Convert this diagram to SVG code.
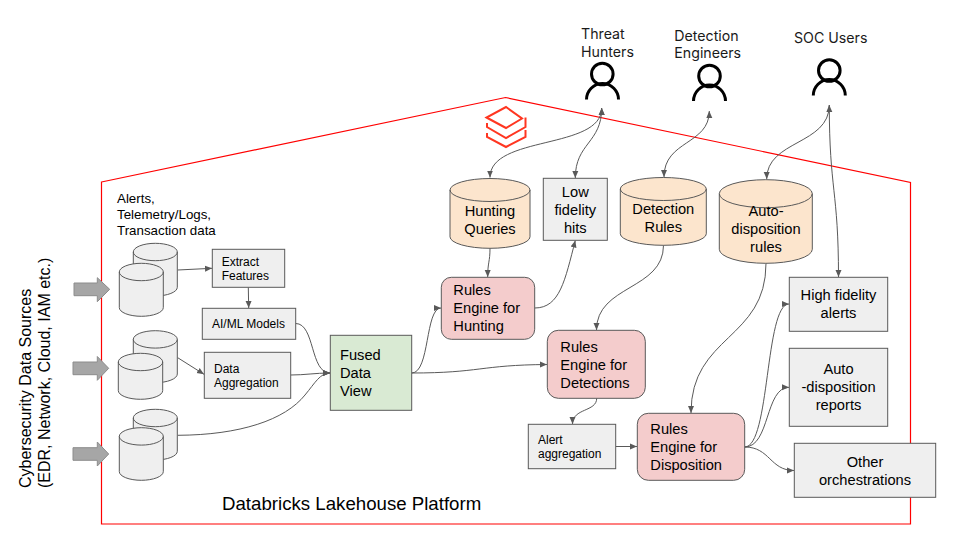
<svg xmlns="http://www.w3.org/2000/svg" width="960" height="540" viewBox="0 0 960 540">
<style>
text{font-family:"Liberation Sans",Arial,sans-serif;font-size:14.67px;fill:#000}
.s{font-size:12px}
.m{font-size:13.33px}
.u{font-family:Inter,"Open Sans",sans-serif;font-size:14.2px;fill:#1a1a1a}
.c{text-anchor:middle}
.n{stroke:#595959;stroke-width:1}
.g{fill:#efefef}.p{fill:#f4cccc}.o{fill:#fce5cd}.e{fill:#d9ead3}
.cap{fill:none;stroke:#595959;stroke-width:1}
.a{fill:#a6a6a6;stroke:#8c8c8c;stroke-width:1}
.l{fill:none;stroke:#595959;stroke-width:1;marker-end:url(#h)}
.b{marker-start:url(#hs)}
.usr{fill:none;stroke:#000;stroke-width:3}
.lg{fill:none;stroke:#ff3621;stroke-width:2}
</style>
<defs>
<marker id="h" markerUnits="userSpaceOnUse" viewBox="0 0 8 8" refX="7" refY="4" markerWidth="8" markerHeight="8" orient="auto"><path d="M0,1 L7,4 L0,7z" fill="#595959"/></marker>
<marker id="hs" markerUnits="userSpaceOnUse" viewBox="0 0 8 8" refX="1" refY="4" markerWidth="8" markerHeight="8" orient="auto"><path d="M8,1 L1,4 L8,7z" fill="#595959"/></marker>
</defs>
<path id="lakehouse" d="M101.5,182 L505.5,97.5 L910.5,182.5 V524 H101.5Z" fill="none" stroke="#f00" stroke-width="1.2"/>
<g id="logo" class="lg"><path d="M486.500,117.500 L506,128 L522,118.500 L506,107 Z"/><path d="M487,123 V127 L506,138 L525.500,127 V117.500"/><path d="M487,133 V137 L506,147 L525.500,137 V130"/></g>
<g id="source-label" transform="translate(31,488) rotate(-90)"><text style="font-size:16px">Cybersecurity Data Sources</text><text y="19" style="font-size:16px">(EDR, Network, Cloud, IAM etc.)</text></g>
<text id="platform-label" x="222" y="509.500" style="font-size:18.67px">Databricks Lakehouse Platform</text>
<text id="data-label" class="m"><tspan x="117" y="203">Alerts,</tspan><tspan x="117" y="219">Telemetry/Logs,</tspan><tspan x="117" y="235">Transaction data</tspan></text>
<g id="source-arrows" class="a"><path d="M74,283 H97.300 V277.700 L109.700,289.300 L97.300,301.700 V295.700 H74Z"/><path d="M73,362 H97.300 V356.500 L108.700,368.300 L97.300,380.300 V374.700 H73Z"/><path d="M73,447.700 H97.300 V442 L108.700,454 L97.300,466 V460.300 H73Z"/></g>
<g id="connectors">
<path class="l b" d="M601.700,108 C601.700,150 490,135 490,177.500"/>
<path class="l b" d="M601.700,108 C601.700,143 575.300,143 575.300,178"/>
<path class="l b" d="M709.300,111 C709.300,145 664,140 664,177"/>
<path class="l b" d="M829.300,105 C829.300,145 766.700,140 766.700,179"/>
<path class="l" d="M829.300,105 C829.300,190 838.500,190 838.500,277"/>
<path class="l" d="M490,248.300 C490,262 487.700,262 487.700,277"/>
<path class="l" d="M534.700,308 C560,308 565,280 575.300,240.500"/>
<path class="l" d="M663.500,245.300 C663.500,290 596.500,285 596.500,330"/>
<path class="l" d="M766,263.300 C766,340 691,335 691,413"/>
<path class="l" d="M411.700,373 C430,373 425,308 441,308"/>
<path class="l" d="M411.700,373 C480,373 480,365 547,364.500"/>
<path class="l" d="M596.700,398.300 C596.700,412 572.500,408 572.500,424"/>
<path class="l" d="M615.700,446.500 H637"/>
<path class="l" d="M744.700,447 C770,447 765,304 789,304"/>
<path class="l" d="M744.700,447 C770,447 765,387.300 789,387.300"/>
<path class="l" d="M744.700,447 C770,447 770,470.500 794,470.500"/>
<path class="l" d="M177.700,270 L212,268.300"/>
<path class="l" d="M248.300,287.300 L248.700,308"/>
<path class="l" d="M295.700,323.500 C315,323.500 310,373 330,373"/>
<path class="l" d="M290.700,375 C305,375 315,373 330,373"/>
<path class="l" d="M177.700,357.700 L204,374.300"/>
<path class="l" d="M177.700,435.300 C240,435 285,420 305,395 C315,383 320,373 330,373"/>
</g>
<g id="source-1"><path class="g n" d="M133.300,252 A22,8.700 0 0 1 177.300,252 V287.300 A22,8.700 0 0 1 133.300,287.300Z"/><path class="cap" d="M133.300,252 A22,8.700 0 0 0 177.300,252"/><path class="g n" d="M119.300,272 A22,8.700 0 0 1 163.300,272 V307.600 A22,8.700 0 0 1 119.300,307.600Z"/><path class="cap" d="M119.300,272 A22,8.700 0 0 0 163.300,272"/></g>
<g id="source-2"><path class="g n" d="M133.300,339.400 A22,8.700 0 0 1 177.300,339.400 V374 A22,8.700 0 0 1 133.300,374Z"/><path class="cap" d="M133.300,339.400 A22,8.700 0 0 0 177.300,339.400"/><path class="g n" d="M118.300,362 A22.200,8.700 0 0 1 162.700,362 V390.600 A22.200,8.700 0 0 1 118.300,390.600Z"/><path class="cap" d="M118.300,362 A22.200,8.700 0 0 0 162.700,362"/></g>
<g id="source-3"><path class="g n" d="M133.300,418 A22,8.700 0 0 1 177.300,418 V451.300 A22,8.700 0 0 1 133.300,451.300Z"/><path class="cap" d="M133.300,418 A22,8.700 0 0 0 177.300,418"/><path class="g n" d="M119.300,436.400 A22,8.700 0 0 1 163.300,436.400 V471.600 A22,8.700 0 0 1 119.300,471.600Z"/><path class="cap" d="M119.300,436.400 A22,8.700 0 0 0 163.300,436.400"/></g>
<g id="extract"><rect class="g n" x="212.300" y="249.300" width="72.400" height="38"/><text class="s"><tspan x="221.700" y="265.700">Extract</tspan><tspan x="221.700" y="279.700">Features</tspan></text></g>
<g id="aiml"><rect class="g n" x="202.300" y="308.300" width="93.400" height="31"/><text class="s" x="212" y="327.700">AI/ML Models</text></g>
<g id="aggregation"><rect class="g n" x="204.300" y="352.300" width="86.400" height="46"/><text class="s"><tspan x="214" y="373">Data</tspan><tspan x="214" y="387">Aggregation</tspan></text></g>
<g id="fused"><rect class="e n" x="330.300" y="335.300" width="81.400" height="75"/><text><tspan x="340" y="360">Fused</tspan><tspan x="340" y="378">Data</tspan><tspan x="340" y="396">View</tspan></text></g>
<g id="hunting-queries"><path class="o n" d="M450,190 A40,11.500 0 0 1 530,190 V236.800 A40,11.500 0 0 1 450,236.800Z"/><path class="cap" d="M450,190 A40,11.500 0 0 0 530,190"/><text class="c"><tspan x="490" y="215.500">Hunting</tspan><tspan x="490" y="233.500">Queries</tspan></text></g>
<g id="low-fidelity"><rect class="g n" x="543.300" y="178.300" width="64" height="62"/><text class="c"><tspan x="575.300" y="197">Low</tspan><tspan x="575.300" y="215">fidelity</tspan><tspan x="575.300" y="233">hits</tspan></text></g>
<g id="detection-rules"><path class="o n" d="M620.300,189 A43,11.500 0 0 1 706.300,189 V233.800 A43,11.500 0 0 1 620.300,233.800Z"/><path class="cap" d="M620.300,189 A43,11.500 0 0 0 706.300,189"/><text class="c"><tspan x="663.300" y="213.500">Detection</tspan><tspan x="663.300" y="231.500">Rules</tspan></text></g>
<g id="auto-rules"><path class="o n" d="M719.300,193.700 A46.500,14 0 0 1 812.300,193.700 V249.300 A46.500,14 0 0 1 719.300,249.300Z"/><path class="cap" d="M719.300,193.700 A46.500,14 0 0 0 812.300,193.700"/><text class="c"><tspan x="766" y="216">Auto-</tspan><tspan x="766" y="234">disposition</tspan><tspan x="766" y="252">rules</tspan></text></g>
<g id="rules-hunting"><rect class="p n" x="441.300" y="277.300" width="93.400" height="62" rx="10"/><text><tspan x="453.300" y="295.300">Rules</tspan><tspan x="453.300" y="313.300">Engine for</tspan><tspan x="453.300" y="331.300">Hunting</tspan></text></g>
<g id="rules-detections"><rect class="p n" x="547.300" y="330.300" width="98" height="68" rx="11"/><text><tspan x="560.300" y="351.700">Rules</tspan><tspan x="560.300" y="369.700">Engine for</tspan><tspan x="560.300" y="387.700">Detections</tspan></text></g>
<g id="alert-aggregation"><rect class="g n" x="528.300" y="424.300" width="87.400" height="44.400"/><text class="s"><tspan x="538" y="444">Alert</tspan><tspan x="538" y="458">aggregation</tspan></text></g>
<g id="rules-disposition"><rect class="p n" x="637.300" y="413.300" width="107.400" height="67" rx="11"/><text><tspan x="650.300" y="434.300">Rules</tspan><tspan x="650.300" y="452.300">Engine for</tspan><tspan x="650.300" y="470.300">Disposition</tspan></text></g>
<g id="high-fidelity"><rect class="g n" x="789.300" y="277.300" width="98.400" height="54"/><text class="c"><tspan x="838.500" y="300">High fidelity</tspan><tspan x="838.500" y="318">alerts</tspan></text></g>
<g id="auto-reports"><rect class="g n" x="789.300" y="348.300" width="98.400" height="78"/><text class="c"><tspan x="838.500" y="374.300">Auto</tspan><tspan x="838.500" y="392.300">-disposition</tspan><tspan x="838.500" y="410.300">reports</tspan></text></g>
<g id="other"><rect class="g n" x="794.300" y="443.300" width="141.400" height="54"/><text class="c"><tspan x="865" y="466.700">Other</tspan><tspan x="865" y="484.700">orchestrations</tspan></text></g>
<g id="threat-hunters"><text class="u"><tspan x="581" y="39.300">Threat</tspan><tspan x="581" y="56.700">Hunters</tspan></text><circle class="usr" cx="602.300" cy="74" r="10.800"/><path class="usr" d="M586.500,99.500 A16,16 0 0 1 618.500,99.500"/></g>
<g id="detection-engineers"><text class="u"><tspan x="674.300" y="41">Detection</tspan><tspan x="674.300" y="58.300">Engineers</tspan></text><circle class="usr" cx="709.500" cy="76" r="10.800"/><path class="usr" d="M693.500,101 A16,16 0 0 1 725.500,101"/></g>
<g id="soc-users"><text class="u" x="794" y="42.700">SOC Users</text><circle class="usr" cx="829.300" cy="70.500" r="10.800"/><path class="usr" d="M813.300,95.500 A16,16 0 0 1 845.300,95.500"/></g>
</svg>
